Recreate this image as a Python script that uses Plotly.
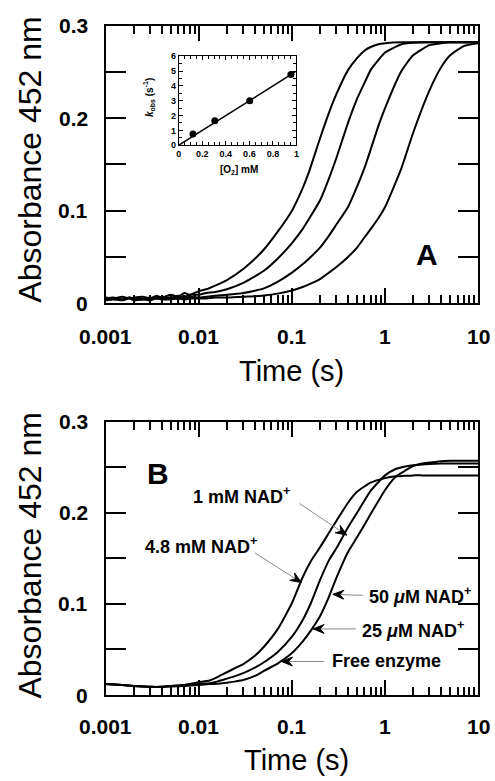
import math
import plotly.graph_objects as go

# ---------------- Panel A data ----------------
time_A = [0.001, 0.0012, 0.0015, 0.0018, 0.002, 0.0025, 0.003, 0.0035, 0.004, 0.005,
          0.006, 0.007, 0.008, 0.01, 0.012, 0.015, 0.02, 0.03, 0.04, 0.05,
          0.07, 0.1, 0.13, 0.15, 0.2, 0.25, 0.3, 0.4, 0.5, 0.6,
          0.7, 0.85, 1, 1.5, 2, 3, 4, 5, 7, 10]
abs_A_1 = [0.006, 0.005, 0.007, 0.005, 0.006, 0.007, 0.005, 0.008, 0.006, 0.009,
           0.007, 0.011, 0.009, 0.013, 0.015, 0.019, 0.025, 0.037, 0.048, 0.058,
           0.077, 0.100, 0.124, 0.140, 0.178, 0.206, 0.226, 0.252, 0.265, 0.273,
           0.277, 0.280, 0.281, 0.282, 0.282, 0.282, 0.282, 0.282, 0.282, 0.282]
abs_A_2 = [0.005, 0.006, 0.004, 0.006, 0.005, 0.004, 0.006, 0.005, 0.007, 0.006,
           0.008, 0.007, 0.009, 0.009, 0.011, 0.012, 0.015, 0.022, 0.029, 0.035,
           0.048, 0.065, 0.080, 0.090, 0.111, 0.135, 0.157, 0.195, 0.221, 0.238,
           0.252, 0.263, 0.271, 0.280, 0.2815, 0.282, 0.282, 0.282, 0.282, 0.282]
abs_A_3 = [0.004, 0.005, 0.004, 0.006, 0.004, 0.005, 0.004, 0.006, 0.005, 0.005,
           0.006, 0.005, 0.007, 0.006, 0.007, 0.008, 0.009, 0.011, 0.0135, 0.016,
           0.023, 0.033, 0.042, 0.0475, 0.060, 0.073, 0.085, 0.104, 0.126, 0.146,
           0.166, 0.192, 0.211, 0.251, 0.268, 0.279, 0.281, 0.282, 0.282, 0.282]
abs_A_4 = [0.003, 0.004, 0.003, 0.005, 0.003, 0.004, 0.003, 0.005, 0.004, 0.004,
           0.005, 0.004, 0.005, 0.005, 0.005, 0.006, 0.006, 0.007, 0.0075, 0.0083,
           0.0103, 0.0136, 0.0175, 0.020, 0.026, 0.033, 0.039, 0.050, 0.060, 0.071,
           0.080, 0.092, 0.104, 0.146, 0.184, 0.230, 0.255, 0.268, 0.278, 0.281]

# Inset: kobs vs [O2]
o2_mM = [0.12, 0.306, 0.603, 0.953]
kobs_s = [0.75, 1.65, 3.0, 4.78]
fit_o2 = [0.0, 0.99]
fit_kobs = [0.0, 4.95]

# ---------------- Panel B data ----------------
time_B = [0.001, 0.0015, 0.002, 0.003, 0.004, 0.005, 0.007, 0.01, 0.013, 0.016,
          0.02, 0.025, 0.03, 0.04, 0.05, 0.07, 0.1, 0.13, 0.16, 0.2,
          0.25, 0.3, 0.4, 0.5, 0.7, 1, 1.3, 1.6, 2, 2.5,
          3, 4, 5, 7, 10]
abs_B_4p8mM = [0.012, 0.011, 0.010, 0.009, 0.009, 0.010, 0.011, 0.014, 0.016, 0.020,
               0.025, 0.030, 0.034, 0.043, 0.053, 0.072, 0.101, 0.129, 0.147, 0.162,
               0.178, 0.191, 0.211, 0.223, 0.233, 0.238, 0.240, 0.2405, 0.241, 0.241,
               0.241, 0.241, 0.241, 0.241, 0.241]
abs_B_1mM = [0.012, 0.011, 0.010, 0.009, 0.009, 0.010, 0.011, 0.012, 0.013, 0.015,
             0.018, 0.021, 0.024, 0.030, 0.036, 0.047, 0.064, 0.082, 0.101, 0.126,
             0.148, 0.161, 0.184, 0.200, 0.224, 0.241, 0.248, 0.2505, 0.252, 0.253,
             0.2535, 0.254, 0.254, 0.254, 0.254]
abs_B_low = [0.012, 0.011, 0.010, 0.009, 0.009, 0.0095, 0.010, 0.011, 0.012, 0.0125,
             0.0135, 0.015, 0.0165, 0.021, 0.0265, 0.0345, 0.046, 0.0585, 0.071, 0.0865,
             0.108, 0.1285, 0.157, 0.173, 0.1985, 0.225, 0.2395, 0.2455, 0.2513, 0.254,
             0.255, 0.2566, 0.257, 0.257, 0.257]

decade_vals = [0.001, 0.01, 0.1, 1, 10]
decade_text = ["0.001", "0.01", "0.1", "1", "10"]
abs_vals = [0, 0.1, 0.2, 0.3]
abs_text = ["0", "0.1", "0.2", "0.3"]
abs_minor_vals = [0.05, 0.15, 0.25]
inset_x_vals = [0, 0.2, 0.4, 0.6, 0.8, 1]
inset_x_text = ["0", "0.2", "0.4", "0.6", "0.8", "1"]
inset_y_vals = [0, 1, 2, 3, 4, 5, 6]

# ---------------- Layout helpers ----------------
W, H = 495, 781
FONT = "Liberation Sans, Arial, Helvetica, sans-serif"


def fx(p):
    return p / W


def fy(p):
    return 1 - p / H


minor_vals = [m * 10 ** e for e in range(-3, 1) for m in range(2, 10)]


def bold(s):
    return "<b>%s</b>" % s


fig = go.Figure()
line_style = dict(color="black", width=2, shape="spline", smoothing=0.5)
for ys in [abs_A_1, abs_A_2, abs_A_3, abs_A_4]:
    fig.add_trace(go.Scatter(x=time_A, y=ys, mode="lines", line=line_style,
                             xaxis="x", yaxis="y", hoverinfo="skip"))
for ys in [abs_B_4p8mM, abs_B_1mM, abs_B_low]:
    fig.add_trace(go.Scatter(x=time_B, y=ys, mode="lines", line=line_style,
                             xaxis="x2", yaxis="y2", hoverinfo="skip"))
fig.add_trace(go.Scatter(x=fit_o2, y=fit_kobs, mode="lines",
                         line=dict(color="black", width=1.5),
                         xaxis="x3", yaxis="y3", hoverinfo="skip"))
fig.add_trace(go.Scatter(x=o2_mM, y=kobs_s, mode="markers",
                         marker=dict(color="black", size=7),
                         xaxis="x3", yaxis="y3", hoverinfo="skip"))


def xlog(anchor):
    return dict(type="log", range=[-3, 1], domain=[fx(104), fx(481)], anchor=anchor,
                showline=True, linecolor="black", linewidth=2, mirror="ticks",
                ticks="inside", ticklen=15, tickwidth=2, tickcolor="black",
                tickmode="array", tickvals=decade_vals, showticklabels=False,
                minor=dict(ticks="inside", ticklen=8, tickwidth=1.5, tickcolor="black",
                           tickmode="array", tickvals=minor_vals, showgrid=False),
                showgrid=False, zeroline=False)


def yabs(domain, anchor):
    return dict(range=[0, 0.3], domain=domain, anchor=anchor,
                showline=True, linecolor="black", linewidth=2, mirror="ticks",
                ticks="inside", ticklen=20, tickwidth=2, tickcolor="black",
                tickmode="array", tickvals=abs_vals, showticklabels=False,
                minor=dict(ticks="inside", ticklen=20, tickwidth=2, tickcolor="black",
                           tickmode="array", tickvals=abs_minor_vals, showgrid=False),
                showgrid=False, zeroline=False)


inset_font = dict(family=FONT, size=9, color="black")
layout = dict(
    width=W, height=H, margin=dict(l=0, r=0, t=0, b=0),
    paper_bgcolor="white", plot_bgcolor="white", showlegend=False,
    xaxis=xlog("y"), yaxis=yabs([fy(302), fy(21)], "x"),
    xaxis2=xlog("y2"), yaxis2=yabs([fy(699), fy(422)], "x2"),
    xaxis3=dict(range=[0, 1], domain=[fx(178), fx(297)], anchor="y3",
                showline=True, linecolor="black", linewidth=1.2, mirror="ticks",
                ticks="inside", ticklen=4, tickwidth=1, tickcolor="black",
                tickmode="array", tickvals=inset_x_vals,
                ticktext=[bold(t) for t in inset_x_text], tickfont=inset_font,
                minor=dict(ticks="inside", ticklen=3, tickwidth=1, tickcolor="black",
                           dtick=0.05, showgrid=False),
                showgrid=False, zeroline=False),
    yaxis3=dict(range=[0, 6], domain=[fy(142), fy(52)], anchor="x3",
                showline=True, linecolor="black", linewidth=1.2, mirror="ticks",
                ticks="inside", ticklen=4, tickwidth=1, tickcolor="black",
                tickmode="array", tickvals=inset_y_vals,
                ticktext=[bold(str(v)) for v in inset_y_vals], tickfont=inset_font,
                minor=dict(ticks="inside", ticklen=3, tickwidth=1, tickcolor="black",
                           dtick=0.5, showgrid=False),
                showgrid=False, zeroline=False),
)

ann = []
shapes = []


def text_ann(x, y, text, size, xanchor="center", angle=0):
    ann.append(dict(x=fx(x), y=fy(y), xref="paper", yref="paper", text=text,
                    showarrow=False, xanchor=xanchor, yanchor="middle", textangle=angle,
                    borderpad=0,
                    font=dict(family=FONT, size=size, color="black")))


# large tick labels placed through the axes' own scales
for xref, ylab in (("x", 336), ("x2", 731)):
    for v, t in zip(decade_vals, decade_text):
        ann.append(dict(x=math.log10(v), xref=xref, y=fy(ylab), yref="paper",
                        text=bold(t), showarrow=False, xanchor="center",
                        yanchor="middle", borderpad=0,
                        font=dict(family=FONT, size=21, color="black")))
for yref in ("y", "y2"):
    for v, t in zip(abs_vals, abs_text):
        ann.append(dict(x=fx(87), xref="paper", y=v, yref=yref,
                        text=bold(t), showarrow=False, xanchor="right",
                        yanchor="middle", borderpad=0,
                        font=dict(family=FONT, size=21, color="black")))

# axis titles
text_ann(27, 157, "Absorbance 452 nm", 32, angle=-90)
text_ann(27, 558, "Absorbance 452 nm", 32, angle=-90)
text_ann(292, 371, "Time (s)", 29)
text_ann(297, 765, "Time (s)", 29)
# panel letters
text_ann(429, 253, "<b>A</b>", 30)
text_ann(157, 475, "<b>B</b>", 30)
# inset titles
text_ann(239, 167, "<b>[O<sub>2</sub>] mM</b>", 10)
text_ann(148, 94, "<b><i>k</i><sub>obs</sub> (s<sup>-1</sup>)</b>", 10, angle=-90)

# panel B labels with gray leader lines and black arrow heads
labels_B = [
    (191, 497, "<b>1 mM NAD<sup>+</sup></b>", (300, 505), (348, 537)),
    (143, 548, "<b>4.8 mM NAD<sup>+</sup></b>", (255, 555), (302, 585)),
    (369, 598, "<b>50 <i>μ</i>M NAD<sup>+</sup></b>", (364, 598), (334, 597)),
    (362, 633, "<b>25 <i>μ</i>M NAD<sup>+</sup></b>", (357, 632), (314, 632)),
    (332, 665, "<b>Free enzyme</b>", (325, 665), (282, 665)),
]
for lx, ly, txt, tail, tip in labels_B:
    text_ann(lx, ly, txt, 18, xanchor="left")
    shapes.append(dict(type="line", xref="paper", yref="paper",
                       x0=fx(tail[0]), y0=fy(tail[1]), x1=fx(tip[0]), y1=fy(tip[1]),
                       line=dict(color="#8a8a8a", width=1)))
    dx, dy = tail[0] - tip[0], tail[1] - tip[1]
    L = (dx ** 2 + dy ** 2) ** 0.5
    ux, uy = dx / L, dy / L
    nx, ny = -uy, ux
    hl, hw, notch = 11, 4.5, 7
    pts = [(tip[0], tip[1]),
           (tip[0] + hl * ux + hw * nx, tip[1] + hl * uy + hw * ny),
           (tip[0] + notch * ux, tip[1] + notch * uy),
           (tip[0] + hl * ux - hw * nx, tip[1] + hl * uy - hw * ny)]
    path = "M " + " L ".join("%.5f,%.5f" % (fx(px), fy(py)) for px, py in pts) + " Z"
    shapes.append(dict(type="path", xref="paper", yref="paper", path=path,
                       fillcolor="black", line=dict(color="black", width=1)))

layout["annotations"] = ann
layout["shapes"] = shapes
fig.update_layout(**layout)
fig.write_html("out.html")
